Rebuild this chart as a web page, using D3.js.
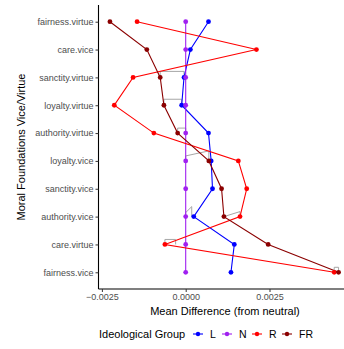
<!DOCTYPE html>
<html>
<head>
<meta charset="utf-8">
<script src="https://cdn.jsdelivr.net/npm/d3@7"></script>
<style>
  html, body { margin: 0; padding: 0; background: #fff; }
  svg { display: block; font-family: "Liberation Sans", Arial, sans-serif; }
</style>
</head>
<body>
<svg id="chart" width="344" height="349"></svg>
<script>
// Foundations, listed top to bottom
const foundations = [
  "fairness.virtue", "care.vice", "sanctity.virtue", "loyalty.virtue",
  "authority.virtue", "loyalty.vice", "sanctity.vice", "authority.vice",
  "care.virtue", "fairness.vice"
];

// Mean difference from neutral, per ideological group (same order as foundations)
const valuesL  = [0.00068, 0.00014, -0.00005, -0.00012, 0.00068, 0.00076, 0.00080, 0.00024, 0.00145, 0.00135];
const valuesN  = [0, 0, 0, 0, 0, 0, 0, 0, 0, 0];
const valuesR  = [-0.00145, 0.00211, -0.00157, -0.00213, -0.00095, 0.00157, 0.00182, 0.00162, -0.00062, 0.00443];
const valuesFR = [-0.00226, -0.00116, -0.00076, -0.00065, -0.00024, 0.00069, 0.00107, 0.00114, 0.00246, 0.00456];

const groups = ["L", "N", "R", "FR"];
const groupColors = ["#0000ff", "#a020f0", "#ff0000", "#8b0000"];

// Grey interval brackets
const bracketCat = ["sanctity.virtue", "loyalty.virtue", "authority.virtue", "loyalty.vice", "authority.vice", "authority.vice", "care.virtue", "fairness.vice"];
const bracketLo  = [-0.00076, -0.00065, -0.00024, 0.00000, 0.00000, 0.00114, -0.00062, 0.00443];
const bracketHi  = [-0.00005, -0.00012, 0.00000, 0.00069, 0.00018, 0.00162, -0.00030, 0.00456];

const xTicks = [-0.0025, 0, 0.0025];

const series = [valuesL, valuesN, valuesR, valuesFR];

const svg = d3.select("#chart");
const panel = { left: 98.5, right: 350, top: 5, bottom: 289 };

const all = series.flat();
const [lo, hi] = d3.extent(all);
const pad = (hi - lo) * 0.05;
const x = d3.scaleLinear().domain([lo - pad, hi + pad]).range([panel.left, panel.right]);
const y = d3.scalePoint().domain(foundations).range([panel.top, panel.bottom]).padding(0.6);

// Bracket end heights (px) for each bracket: [left, right]
const bracketLift = [[6, 6], [6, 6], [5, 5], [5, 10], [4, 10], [0, 5], [5, 5], [5, 5]];
const gB = svg.append("g");
bracketCat.forEach((c, i) => {
  const yy = y(c), x0 = x(bracketLo[i]), x1 = x(bracketHi[i]);
  const [l, r] = bracketLift[i];
  gB.append("path")
    .attr("d", `M${x0},${yy}L${x0},${yy - l}L${x1},${yy - r}L${x1},${yy}`)
    .attr("fill", "none").attr("stroke", "#a6a6a6").attr("stroke-width", 1);
});

// Paths per group
const line = d3.line().x(d => x(d.v)).y(d => y(d.c));
series.forEach((vals, gi) => {
  const pts = vals.map((v, i) => ({ c: foundations[i], v }));
  svg.append("path").datum(pts)
    .attr("d", line)
    .attr("fill", "none")
    .attr("stroke", groupColors[gi])
    .attr("stroke-width", 1.1);
});
series.forEach((vals, gi) => {
  svg.append("g").selectAll("circle")
    .data(vals.map((v, i) => ({ c: foundations[i], v })))
    .join("circle")
    .attr("cx", d => x(d.v)).attr("cy", d => y(d.c))
    .attr("r", 2.4)
    .attr("fill", groupColors[gi]);
});

// Axes
const xAxis = d3.axisBottom(x).tickValues(xTicks).tickSize(3).tickPadding(2)
  .tickFormat(d => d3.format(".4f")(d).replace("-", "\u2212"));
const gx = svg.append("g").attr("transform", `translate(0,${panel.bottom})`).call(xAxis);
gx.select(".domain").attr("d", `M${panel.left},0H${panel.right}`).attr("stroke", "#000").attr("stroke-width", 1.1);
gx.selectAll(".tick line").attr("stroke", "#333");
gx.selectAll(".tick text").attr("fill", "#4d4d4d").attr("font-size", 9).attr("font-family", "Liberation Sans, Arial, sans-serif");

const yAxis = d3.axisLeft(y).tickSize(3).tickPadding(2);
const gy = svg.append("g").attr("transform", `translate(${panel.left},0)`).call(yAxis);
gy.select(".domain").attr("d", `M0,${panel.top}V${panel.bottom}`).attr("stroke", "#000").attr("stroke-width", 1.1);
gy.selectAll(".tick line").attr("stroke", "#333");
gy.selectAll(".tick text").attr("fill", "#4d4d4d").attr("font-size", 9).attr("font-family", "Liberation Sans, Arial, sans-serif");

// Axis titles
svg.append("text").attr("x", 225).attr("y", 315).attr("text-anchor", "middle")
  .attr("font-size", 11).text("Mean Difference (from neutral)");
svg.append("text").attr("transform", `translate(25,${(panel.top + panel.bottom) / 2}) rotate(-90)`)
  .attr("text-anchor", "middle").attr("font-size", 11).text("Moral Foundations Vice/Virtue");

// Legend
const leg = svg.append("g").attr("transform", "translate(0,334)");
leg.append("text").attr("x", 99).attr("y", 4).attr("font-size", 11).text("Ideological Group");
const keyX = [193, 222, 252, 282];
groups.forEach((g, i) => {
  const k = leg.append("g").attr("transform", `translate(${keyX[i]},0)`);
  k.append("line").attr("x1", 0).attr("x2", 10).attr("y1", 0).attr("y2", 0)
    .attr("stroke", groupColors[i]).attr("stroke-width", 1.1);
  k.append("circle").attr("cx", 5).attr("cy", 0).attr("r", 2.2).attr("fill", groupColors[i]);
  k.append("text").attr("x", 17).attr("y", 4).attr("font-size", 10.5).text(g);
});
</script>
</body>
</html>
